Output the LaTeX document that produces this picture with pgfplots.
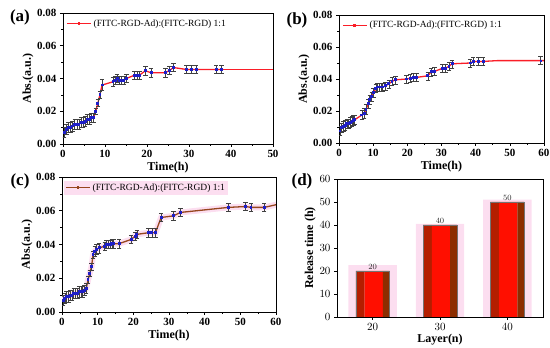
\documentclass[border=0pt]{standalone}
\usepackage{fontspec}
\setmainfont{Liberation Serif}
\usepackage{pgfplots}
\pgfplotsset{compat=1.18}
\usepackage{pgfplotstable}

\definecolor{lineRed}{RGB}{250,30,40}
\definecolor{mkBlue}{RGB}{30,30,200}
\definecolor{lineBrown}{RGB}{150,70,30}
\definecolor{glowPink}{RGB}{252,222,240}
\definecolor{barDark}{RGB}{180,30,0}
\definecolor{barRed}{RGB}{255,15,0}
\definecolor{barBrown}{RGB}{140,45,0}

\pgfplotstableread{
t y e
0.3 0.007 0.003
0.8 0.009 0.003
1.3 0.010 0.003
1.8 0.010 0.003
2.3 0.011 0.003
2.8 0.012 0.003
3.3 0.012 0.003
3.8 0.012 0.003
4.3 0.013 0.003
4.8 0.013 0.003
5.3 0.014 0.003
5.8 0.015 0.003
6.3 0.015 0.003
6.8 0.016 0.003
7.3 0.016 0.003
7.8 0.020 0.002
8.3 0.025 0.002
8.8 0.030 0.002
9.3 0.036 0.0035
11.9 0.038 0.0025
12.4 0.039 0.0025
12.9 0.040 0.0025
13.4 0.039 0.0025
13.9 0.039 0.0025
14.5 0.039 0.0025
15.1 0.040 0.0025
17.0 0.042 0.0025
17.6 0.042 0.0025
18.2 0.042 0.0025
19.6 0.0447 0.0025
21.0 0.0435 0.0025
24.4 0.0435 0.0025
25.4 0.045 0.0025
26.3 0.0467 0.0025
29.4 0.0455 0.0025
30.6 0.0455 0.0025
31.7 0.0455 0.0025
36.5 0.0455 0.0025
37.7 0.0455 0.0025
}\dataA

\pgfplotstableread{
t y e
0.3 0.0075 0.003
0.8 0.0095 0.003
1.3 0.0105 0.003
1.8 0.011 0.003
2.3 0.012 0.003
2.8 0.012 0.003
3.3 0.013 0.003
3.8 0.0135 0.003
4.3 0.014 0.003
4.6 0.0145 0.003
6.7 0.0175 0.003
7.4 0.0185 0.003
7.9 0.021 0.003
8.6 0.0245 0.003
9.0 0.027 0.003
9.6 0.029 0.003
10.1 0.0315 0.003
10.8 0.034 0.0025
11.3 0.035 0.0025
11.8 0.035 0.0025
12.3 0.035 0.0025
12.8 0.035 0.0025
13.6 0.0357 0.0025
14.6 0.037 0.0025
15.5 0.0385 0.0025
16.5 0.0395 0.0025
19.8 0.040 0.0025
20.8 0.0405 0.0025
21.7 0.041 0.0025
22.7 0.041 0.0025
26.0 0.042 0.0025
27.0 0.0445 0.0025
27.9 0.0447 0.0025
30.3 0.0467 0.0025
31.2 0.0467 0.0025
32.2 0.048 0.0025
33.1 0.0495 0.0025
38.4 0.050 0.0025
39.3 0.051 0.0025
40.8 0.051 0.0025
42.2 0.051 0.0025
}\dataB

\pgfplotstableread{
t y e
0.3 0.007 0.003
0.8 0.008 0.003
1.3 0.009 0.003
1.8 0.009 0.003
2.3 0.010 0.003
2.8 0.010 0.003
3.3 0.011 0.003
3.8 0.011 0.003
4.3 0.011 0.003
4.8 0.012 0.003
5.3 0.012 0.003
5.8 0.012 0.003
6.3 0.013 0.003
6.8 0.014 0.003
7.3 0.019 0.002
7.8 0.023 0.002
8.3 0.027 0.002
8.7 0.034 0.002
9.2 0.036 0.003
9.7 0.037 0.003
10.4 0.038 0.003
12.0 0.039 0.0025
12.5 0.040 0.0025
13.0 0.040 0.0025
13.5 0.040 0.0025
14.0 0.0405 0.0025
14.5 0.0405 0.0025
16.0 0.0405 0.0025
19.4 0.043 0.0025
20.5 0.045 0.0025
21.0 0.046 0.0025
24.3 0.047 0.0025
25.2 0.047 0.0025
26.2 0.047 0.0025
27.8 0.056 0.0025
31.3 0.057 0.0025
33.2 0.059 0.0025
46.7 0.062 0.0025
51.5 0.0625 0.0025
53.0 0.062 0.0025
56.7 0.062 0.0025
}\dataC

\pgfplotsset{
  relax/.style={
    scale only axis, anchor=south west, xmin=0, ymin=0, ymax=0.08,
    ytick={0,0.02,0.04,0.06,0.08}, scaled y ticks=false,
    yticklabel style={/pgf/number format/.cd, fixed, fixed zerofill, precision=2},
    tick align=outside, tick style={black, line width=0.6pt},
    major tick length=3pt, minor tick length=1.8pt,
    axis line style={line width=0.8pt},
    xtick pos=left, ytick pos=left, minor tick num=1,
    /pgf/number format/assume math mode=true,
    tick label style={font=\fontsize{11}{11}\selectfont\bfseries},
    label style={font=\fontsize{12}{12}\selectfont\bfseries},
    xlabel={Time(h)}, ylabel={Abs.(a.u.)},
    xlabel style={yshift=3pt}, ylabel style={yshift=-3pt},
    legend style={draw=none, fill=none, at={(0.01,0.975)}, anchor=north west,
      font=\fontsize{9.5}{9.5}\selectfont, inner sep=1pt},
    legend cell align=left,
  },
  legRed/.style={legend image code/.code={
       \draw[draw=lineRed, line width=1.4pt] (0pt,0pt) -- (24pt,0pt);
       \fill[fill=mkBlue] (11.2pt,-0.8pt) rectangle (12.8pt,0.8pt);}},
  legBrown/.style={legend image code/.code={
       \draw[draw=lineBrown, line width=1.4pt] (0pt,0pt) -- (24pt,0pt);
       \fill[fill=mkBlue] (11.2pt,-0.8pt) rectangle (12.8pt,0.8pt);}},
  ebar/.style={error bars/y dir=both, error bars/y explicit,
     error bars/error bar style={black!75, line width=0.6pt},
     error bars/error mark options={black!75, rotate=90, mark size=2.2pt, line width=0.6pt}},
  redbar/.style={ybar, bar width=#1, draw=none},
}

\begin{document}
\begin{tikzpicture}
\useasboundingbox (0,0) rectangle (550pt,348pt);

% (a)
\begin{axis}[relax, legRed, at={(63pt,204pt)}, width=210pt, height=131pt, xmax=50,
  xtick={0,10,...,50}]
\addplot[lineRed, line width=1.3pt, forget plot] coordinates {(37.7,0.0455) (52,0.0455)};
\addplot[lineRed, line width=1.3pt, mark=square*, mark size=0.8pt,
  mark options={mkBlue, draw=mkBlue}, ebar]
  table[x=t, y=y, y error=e] {\dataA};
\addlegendentry{(FITC-RGD-Ad):(FITC-RGD) 1:1}
\end{axis}

% (b)
\begin{axis}[relax, legRed, at={(339pt,205pt)}, width=205pt, height=128pt, xmax=60,
  xtick={0,10,...,60}]
\addplot[lineRed, line width=1.3pt, forget plot] coordinates {(42.2,0.051) (46.5,0.0515) (62,0.0515)};
\addplot[only marks, mark=square*, mark size=0.8pt,
  mark options={mkBlue, draw=mkBlue}, ebar, forget plot]
  coordinates {(59,0.0515) +- (0,0.0025)};
\addplot[lineRed, line width=1.3pt, mark=square*, mark size=0.8pt,
  mark options={mkBlue, draw=mkBlue}, ebar]
  table[x=t, y=y, y error=e] {\dataB};
\addlegendentry{(FITC-RGD-Ad):(FITC-RGD) 1:1}
\end{axis}

% (c)
\begin{axis}[relax, legBrown, at={(62pt,36pt)}, width=214pt, height=135pt, xmax=60,
  xtick={0,10,...,60}, legend style={fill=glowPink}]
\addplot[glowPink, line width=6pt, forget plot] table[x=t, y=y] {\dataC};
\addplot[glowPink, line width=6pt, forget plot] coordinates {(56.7,0.062) (62,0.0645)};
\addplot[lineBrown, line width=1.3pt, forget plot] coordinates {(56.7,0.062) (62,0.0645)};
\addplot[lineBrown, line width=1.3pt, mark=square*, mark size=0.8pt,
  mark options={mkBlue, draw=mkBlue}, ebar]
  table[x=t, y=y, y error=e] {\dataC};
\addlegendentry{(FITC-RGD-Ad):(FITC-RGD) 1:1}
\end{axis}

% (d)
\begin{axis}[scale only axis, anchor=south west, at={(337pt,31pt)},
  width=206pt, height=138pt, xmin=14.7, xmax=45.3, ymin=0, ymax=60,
  xtick={20,30,40}, ytick={0,10,...,60},
  tick align=outside, tick style={black, line width=0.6pt}, major tick length=3pt,
  axis line style={line width=0.8pt},
  xtick pos=left, ytick pos=left, axis on top,
  tick label style={font=\fontsize{11}{11}\selectfont},
  label style={font=\fontsize{12}{12}\selectfont\bfseries},
  xlabel={Layer(n)}, ylabel={Release time (h)},
  xlabel style={yshift=3pt}, ylabel style={yshift=-3pt}]
\addplot[ybar, bar width=7.2, bar shift=0, fill=glowPink, draw=none]
  coordinates {(20,22.5) (30,40.5) (40,51)};
\addplot[redbar=1.3, bar shift=-1.85, fill=barDark]
  coordinates {(20,20) (30,40) (40,50)};
\addplot[redbar=2.7, bar shift=0.15, fill=barRed]
  coordinates {(20,20) (30,40) (40,50)};
\addplot[redbar=1.0, bar shift=2.0, fill=barBrown]
  coordinates {(20,20) (30,40) (40,50)};
\addplot[ybar, bar width=5, bar shift=0, draw=black!55, fill=none,
  nodes near coords,
  every node near coord/.append style={font=\fontsize{8}{8}\selectfont, text=black!85, inner sep=1pt}]
  coordinates {(20,20) (30,40) (40,50)};
\end{axis}

\node[font=\fontsize{17}{17}\selectfont\bfseries] at (20pt,331pt) {(a)};
\node[font=\fontsize{17}{17}\selectfont\bfseries] at (297pt,328pt) {(b)};
\node[font=\fontsize{17}{17}\selectfont\bfseries] at (20pt,167pt) {(c)};
\node[font=\fontsize{17}{17}\selectfont\bfseries] at (302pt,167pt) {(d)};
\end{tikzpicture}
\end{document}
